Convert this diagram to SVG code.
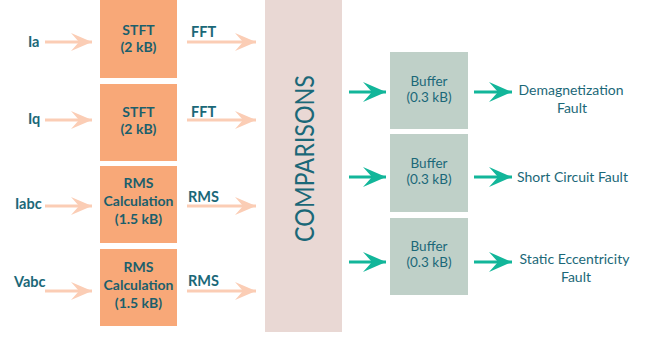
<svg xmlns="http://www.w3.org/2000/svg" width="657" height="337" viewBox="0 0 657 337">
  <defs>
    <style>
      .calc { fill: #f8a878; }
      .buf { fill: #bfd0c8; }
      .cmp { fill: #e9d8d4; }
      .lbl { font-family: Lato, "Liberation Sans", sans-serif; font-weight: 700; font-size: 14.5px; fill: #1b6878; }
      .box { font-family: Lato, "Liberation Sans", sans-serif; font-weight: 700; font-size: 14px; fill: #1b5f6c; text-anchor: middle; }
      .reg { font-family: Lato, "Liberation Sans", sans-serif; font-weight: 400; font-size: 13.5px; fill: #1b6878; text-anchor: middle; }
      .out { font-family: Lato, "Liberation Sans", sans-serif; font-weight: 400; font-size: 14px; fill: #1b6878; text-anchor: middle; }
      .pink { stroke: #fbcdb5; stroke-width: 3; fill: none; }
      .teal { stroke: #12b69a; stroke-width: 3; fill: none; }
    </style>
    <marker id="headPink" markerUnits="userSpaceOnUse" viewBox="-22 -10 23 20" refX="0" refY="0" markerWidth="23" markerHeight="20" orient="auto">
      <path d="M0 0 L-21 -9 L-13 0 L-21 9 Z" fill="#fbcdb5"/>
    </marker>
    <marker id="headTeal" markerUnits="userSpaceOnUse" viewBox="-24 -11 25 22" refX="0" refY="0" markerWidth="25" markerHeight="22" orient="auto">
      <path d="M0 0 L-23 -10 L-14 0 L-23 10 Z" fill="#12b69a"/>
    </marker>
  </defs>

  <rect width="657" height="337" fill="#ffffff"/>

  <!-- connectors -->
  <g id="connectors">
    <path class="pink" d="M45 42 H92" marker-end="url(#headPink)"/>
    <path class="pink" d="M45 120 H92" marker-end="url(#headPink)"/>
    <path class="pink" d="M45 206 H92" marker-end="url(#headPink)"/>
    <path class="pink" d="M45 291 H92" marker-end="url(#headPink)"/>
    <path class="pink" d="M187 42 H256" marker-end="url(#headPink)"/>
    <path class="pink" d="M187 120 H256" marker-end="url(#headPink)"/>
    <path class="pink" d="M187 206 H256" marker-end="url(#headPink)"/>
    <path class="pink" d="M187 291 H256" marker-end="url(#headPink)"/>
    <path class="teal" d="M349 92 H386" marker-end="url(#headTeal)"/>
    <path class="teal" d="M349 177 H386" marker-end="url(#headTeal)"/>
    <path class="teal" d="M349 262 H386" marker-end="url(#headTeal)"/>
    <path class="teal" d="M474 92 H512" marker-end="url(#headTeal)"/>
    <path class="teal" d="M474 177 H512" marker-end="url(#headTeal)"/>
    <path class="teal" d="M474 262 H512" marker-end="url(#headTeal)"/>
  </g>

  <!-- input signals -->
  <g id="inputs">
    <text class="lbl" x="28" y="47">Ia</text>
    <text class="lbl" x="28" y="124">Iq</text>
    <text class="lbl" x="15" y="209">Iabc</text>
    <text class="lbl" x="14" y="287">Vabc</text>
  </g>

  <g id="stft1">
    <rect class="calc" x="100" y="0" width="77" height="78"/>
    <text class="box" x="138.5" y="35">STFT</text>
    <text class="box" x="138.5" y="52">(2 kB)</text>
  </g>
  <g id="stft2">
    <rect class="calc" x="100" y="84" width="77" height="77"/>
    <text class="box" x="138.5" y="117">STFT</text>
    <text class="box" x="138.5" y="134">(2 kB)</text>
  </g>
  <g id="rms1">
    <rect class="calc" x="100" y="166" width="77" height="77"/>
    <text class="box" x="138.5" y="188">RMS</text>
    <text class="box" x="138.5" y="206">Calculation</text>
    <text class="box" x="138.5" y="224">(1.5 kB)</text>
  </g>
  <g id="rms2">
    <rect class="calc" x="100" y="249" width="77" height="77"/>
    <text class="box" x="138.5" y="272">RMS</text>
    <text class="box" x="138.5" y="290">Calculation</text>
    <text class="box" x="138.5" y="308">(1.5 kB)</text>
  </g>

  <!-- connector labels -->
  <g id="edge-labels">
    <text class="lbl" x="191" y="37">FFT</text>
    <text class="lbl" x="191" y="117">FFT</text>
    <text class="lbl" x="188" y="202">RMS</text>
    <text class="lbl" x="188" y="286">RMS</text>
  </g>

  <g id="comparisons">
    <rect class="cmp" x="265" y="0" width="77" height="332"/>
    <text x="314" y="158.5" transform="rotate(-90 314 158.5)" text-anchor="middle" font-family="Lato, 'Liberation Sans', sans-serif" font-size="26.5" fill="#1b6878" textLength="167" lengthAdjust="spacingAndGlyphs">COMPARISONS</text>
  </g>

  <g id="buffer1">
    <rect class="buf" x="390" y="52" width="78" height="77"/>
    <text class="reg" x="429" y="86">Buffer</text>
    <text class="reg" x="429" y="102">(0.3 kB)</text>
  </g>
  <g id="buffer2">
    <rect class="buf" x="390" y="134" width="78" height="78"/>
    <text class="reg" x="429" y="168">Buffer</text>
    <text class="reg" x="429" y="184">(0.3 kB)</text>
  </g>
  <g id="buffer3">
    <rect class="buf" x="390" y="218" width="78" height="77"/>
    <text class="reg" x="429" y="251">Buffer</text>
    <text class="reg" x="429" y="267">(0.3 kB)</text>
  </g>

  <!-- fault outputs -->
  <g id="outputs">
    <text class="out" x="571" y="95">Demagnetization</text>
    <text class="out" x="572" y="113">Fault</text>
    <text class="out" x="572.5" y="182">Short Circuit Fault</text>
    <text class="out" x="574.5" y="264">Static Eccentricity</text>
    <text class="out" x="576" y="282">Fault</text>
  </g>
</svg>
